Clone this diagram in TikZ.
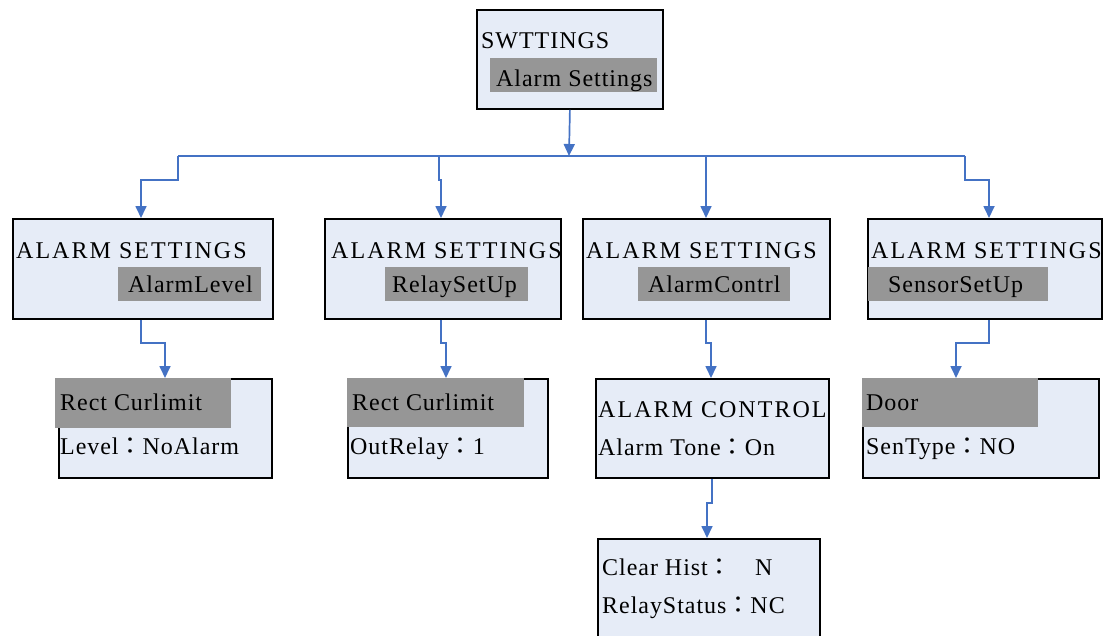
\documentclass[tikz,border=0pt]{standalone}
\usepackage{fontspec}
\setmainfont{Liberation Serif}[LetterSpace=4]
\newfontfamily\cjk{Noto Sans CJK TC}
\usetikzlibrary{arrows.meta}
\definecolor{boxfill}{HTML}{E6ECF7}
\definecolor{hlgray}{HTML}{969696}
\definecolor{linkblue}{HTML}{4472C4}
\newcommand{\fcolon}{{\cjk ：}}
\tikzset{
  panel/.style={draw=black, line width=1.8pt, fill=boxfill, rectangle, inner sep=0pt, anchor=north west},
  hl/.style={fill=hlgray},
  txt/.style={anchor=base west, inner sep=0pt, font=\fontsize{24}{28}\selectfont, text=black},
  wide/.style={txt, font=\fontsize{24}{28}\selectfont\addfontfeature{LetterSpace=8.5}},
  conn/.style={draw=linkblue, line width=1.7pt},
  arr/.style={conn, -{Triangle[width=11pt,length=12pt]}}
}
\begin{document}
\begin{tikzpicture}[x=1pt,y=-1pt]
\useasboundingbox (0,0) rectangle (1105,635);
\clip (0,0) rectangle (1105,635);

% ---- panels ----
\node[panel, minimum width=186pt, minimum height=99pt] (top) at (476,9) {};
\node[panel, minimum width=260pt, minimum height=100pt] (b1) at (12,218) {};
\node[panel, minimum width=236pt, minimum height=100pt] (b2) at (324,218) {};
\node[panel, minimum width=247pt, minimum height=100pt] (b3) at (582,218) {};
\node[panel, minimum width=234pt, minimum height=100pt] (b4) at (867,218) {};
\node[panel, minimum width=213pt, minimum height=99pt] (b5) at (58,378) {};
\node[panel, minimum width=200pt, minimum height=99pt] (b6) at (347,378) {};
\node[panel, minimum width=233pt, minimum height=99pt] (b7) at (595,378) {};
\node[panel, minimum width=222pt, minimum height=110pt] (b8) at (597,538) {};
\node[panel, minimum width=236pt, minimum height=99pt] (b9) at (862,378) {};

% ---- highlighted entries ----
\fill[hl] (490,58) rectangle (657,92);
\fill[hl] (118,267) rectangle (261,301);
\fill[hl] (385,267) rectangle (528,301);
\fill[hl] (638,267) rectangle (790,301);
\fill[hl] (868,267) rectangle (1048,301);
\fill[hl] (55,378) rectangle (231,428);
\fill[hl] (347,378) rectangle (524,427);
\fill[hl] (862,378) rectangle (1038,427);

% ---- texts ----
\node[txt] (t0a) at (481,48) {SWTTINGS};
\node[txt] (t0b) at (496,86) {Alarm Settings};
\node[wide] (t1a) at (16,258) {ALARM SETTINGS};
\node[txt] (t1b) at (128,292) {AlarmLevel};
\node[wide] (t2a) at (331,258) {ALARM SETTINGS};
\node[txt] (t2b) at (392,292) {RelaySetUp};
\node[wide] (t3a) at (586,258) {ALARM SETTINGS};
\node[txt] (t3b) at (648,292) {AlarmContrl};
\node[wide] (t4a) at (871,258) {ALARM SETTINGS};
\node[txt] (t4b) at (888,292) {SensorSetUp};
\node[txt] (t5a) at (60,410) {Rect Curlimit};
\node[txt] (t5b) at (60,454) {Level\fcolon NoAlarm};
\node[txt] (t6a) at (352,410) {Rect Curlimit};
\node[txt] (t6b) at (350,454) {OutRelay\fcolon 1};
\node[wide] (t7a) at (598,417) {ALARM CONTROL};
\node[txt] (t7b) at (598,455) {Alarm Tone\fcolon On};
\node[txt] (t8a) at (602,575) {Clear Hist\fcolon};
\node[txt] (t8n) at (755,575) {N};
\node[txt] (t8b) at (602,613) {RelayStatus\fcolon NC};
\node[txt] (t9a) at (866,410) {Door};
\node[txt] (t9b) at (866,454) {SenType\fcolon NO};

% ---- connectors ----
\coordinate (busL) at (178,156);
\coordinate (busR) at (965,156);
\coordinate (busM) at (569,156);
\draw[arr] (top.south) -- (busM);
\draw[conn] (busL) -- (busR);
\draw[arr] (busL) -- (178,180) -- (141,180) -- (b1.north -| 141,0);
\draw[arr] (439,156) -- (439,180) -- (441,180) -- (b2.north -| 441,0);
\draw[arr] (706,156) -- (b3.north -| 706,0);
\draw[arr] (busR) -- (965,180) -- (989,180) -- (b4.north -| 989,0);

\draw[arr] (b1.south -| 141,0) -- (141,343) -- (165,343) -- (b5.north -| 165,0);
\draw[arr] (b2.south -| 441,0) -- (441,343) -- (446,343) -- (b6.north -| 446,0);
\draw[arr] (b3.south -| 706,0) -- (706,343) -- (711,343) -- (b7.north -| 711,0);
\draw[arr] (b4.south -| 989,0) -- (989,343) -- (956,343) -- (b9.north -| 956,0);
\draw[arr] (b7.south -| 712,0) -- (712,503) -- (707,503) -- (b8.north -| 707,0);
\end{tikzpicture}
\end{document}
